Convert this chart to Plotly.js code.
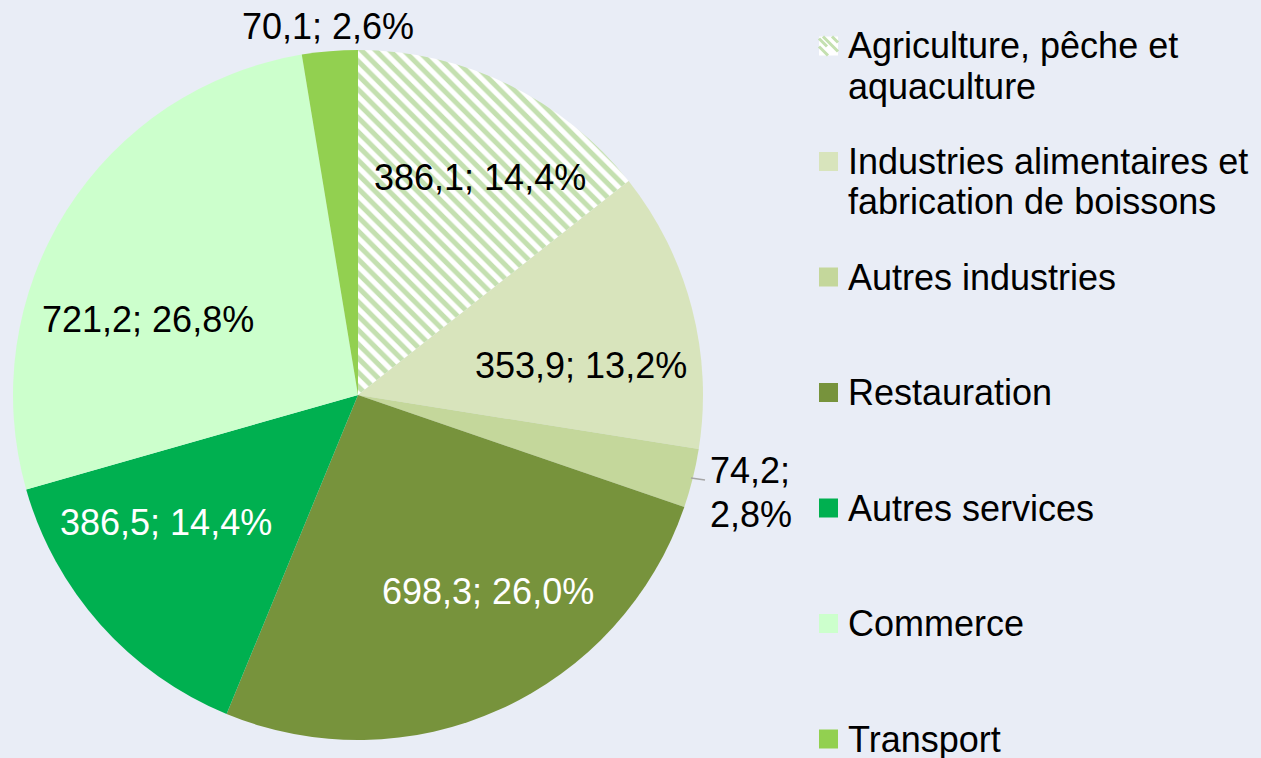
<!DOCTYPE html>
<html>
<head>
<meta charset="utf-8">
<script src="https://cdn.plot.ly/plotly-3.0.1.min.js"></script>
<style>html,body{margin:0;padding:0;background:#E9EDF6;}#chart{width:1261px;height:758px;}</style>
</head>
<body>
<div id="chart"></div>
<script>
// ---- data ----
const categories = [
  "Agriculture, pêche et<br>aquaculture",
  "Industries alimentaires et<br>fabrication de boissons",
  "Autres industries",
  "Restauration",
  "Autres services",
  "Commerce",
  "Transport"
];
const values = [386.1, 353.9, 74.2, 698.3, 386.5, 721.2, 70.1];

// ---- styles ----
const colors = ["#FFFFFF", "#D8E4BC", "#C4D79B", "#77933C", "#00B050", "#CCFFCC", "#92D050"];
const hatchColor = "#C4E0B0";
const labelColors = ["#000", "#000", "#000", "#fff", "#fff", "#000", "#000"];

// ---- layout helpers ----
const W = 1261, H = 758;
const cx = 358, cy = 395, R = 345;
const FONT = "Liberation Sans, Arial, sans-serif";
const FS = 36;

// data-label placement (pixel centres of the label text, layout only)
const labelPos = [[480, 177], [581, 365], [708, 470], [488, 591], [166, 522], [148, 319], [328, 26]];

const total = values.reduce((a, b) => a + b, 0);
const fmt = x => x.toFixed(1).replace(".", ",");

const trace = {
  type: "pie",
  labels: categories.map(c => c.replace("<br>", " ")),
  values: values,
  sort: false,
  direction: "clockwise",
  rotation: 0,
  marker: {
    colors: colors,
    line: {width: 0},
    pattern: {
      shape: ["\\", "", "", "", "", "", ""],
      fgcolor: [hatchColor].concat(colors.slice(1)),
      bgcolor: colors,
      size: 10,
      solidity: 0.5
    }
  },
  textinfo: "none",
  showlegend: false,
  hoverinfo: "label+value+percent",
  domain: {
    x: [(cx - R) / W, (cx + R) / W],
    y: [1 - (cy + R) / H, 1 - (cy - R) / H]
  }
};

const annotations = [];
const shapes = [];

// data labels
values.forEach((v, i) => {
  const pct = fmt(v / total * 100) + "%";
  const [px, py] = labelPos[i];
  if (i === 2) {
    [fmt(v) + ";", pct].forEach((t, k) => {
      annotations.push({
        xref: "paper", yref: "paper", x: px / W, y: 1 - (py + k * 44) / H,
        xanchor: "left", yanchor: "middle", text: t, showarrow: false,
        font: {family: FONT, size: FS, color: labelColors[i]}
      });
    });
  } else {
    annotations.push({
      xref: "paper", yref: "paper", x: px / W, y: 1 - py / H,
      xanchor: "center", yanchor: "middle", text: fmt(v) + "; " + pct, showarrow: false,
      font: {family: FONT, size: FS, color: labelColors[i]}
    });
  }
});

// leader line for the outside label of "Autres industries"
shapes.push({
  type: "line", xref: "paper", yref: "paper",
  x0: 691 / W, y0: 1 - 478 / H, x1: 705 / W, y1: 1 - 480 / H,
  line: {color: "#A6A6A6", width: 1.5}
});

// legend built from categories
const legendX0 = 819, legendSq = 19, legendTextX = 846;
const legendTop = 46, legendStep = 115.5, lineGap = 40;
categories.forEach((c, i) => {
  const my = legendTop + i * legendStep;
  c.split("<br>").forEach((ln, k) => {
    annotations.push({
      xref: "paper", yref: "paper",
      x: legendTextX / W, y: 1 - (my + k * lineGap) / H,
      xanchor: "left", yanchor: "middle",
      text: ln, showarrow: false,
      font: {family: FONT, size: FS, color: "#000"}
    });
  });
  shapes.push({
    type: "rect", xref: "paper", yref: "paper",
    x0: legendX0 / W, x1: (legendX0 + legendSq) / W,
    y0: 1 - (my + legendSq / 2) / H, y1: 1 - (my - legendSq / 2) / H,
    fillcolor: colors[i], line: {width: 0}
  });
  if (i === 0) {
    const segs = [[0, 2, 8, 10], [0, 10, 9, 19], [4, 0, 19, 15], [13, 0, 19, 6]];
    segs.forEach(s => {
      shapes.push({
        type: "line", xref: "paper", yref: "paper",
        x0: (legendX0 + s[0]) / W, y0: 1 - (my - legendSq / 2 + s[1]) / H,
        x1: (legendX0 + s[2]) / W, y1: 1 - (my - legendSq / 2 + s[3]) / H,
        line: {color: hatchColor, width: 3}
      });
    });
  }
});

const layout = {
  width: W, height: H,
  margin: {l: 0, r: 0, t: 0, b: 0},
  paper_bgcolor: "#E9EDF6",
  plot_bgcolor: "#E9EDF6",
  separators: ", ",
  showlegend: false,
  font: {family: FONT, size: FS, color: "#000"},
  annotations: annotations,
  shapes: shapes
};

Plotly.newPlot("chart", [trace], layout, {displayModeBar: false, staticPlot: true});
</script>
</body>
</html>
